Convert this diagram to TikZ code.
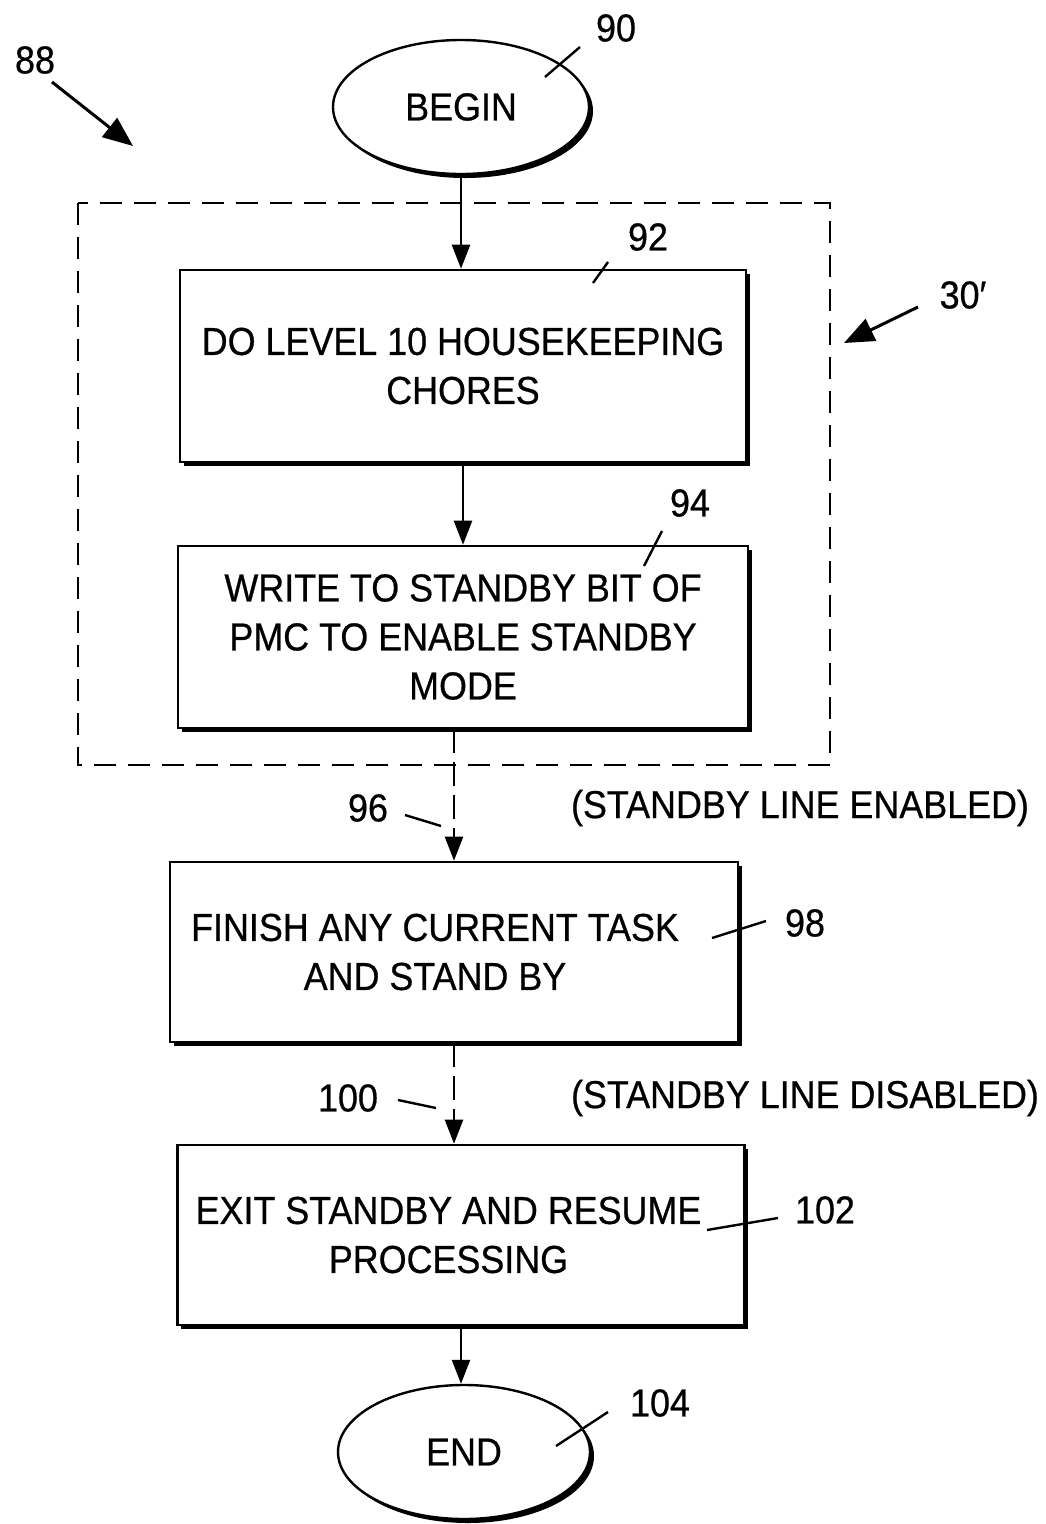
\documentclass[tikz,border=0pt]{standalone}
\usepackage{fontspec}
\setmainfont[FakeStretch=0.92,FakeBold=0.6]{Liberation Sans}
\usetikzlibrary{arrows.meta,shapes.geometric,shadows}
\begin{document}
\begin{tikzpicture}[x=1pt,y=-1pt,
  every node/.style={font=\fontsize{39}{49}\selectfont, inner sep=0pt},
  stepbox/.style={draw, fill=white, line width=2.6pt, align=center,
    general shadow={fill=black, shadow xshift=3.5pt, shadow yshift=-3.5pt}},
  term/.style={ellipse, draw, fill=white, line width=2.4pt,
    general shadow={fill=black, shadow xshift=4pt, shadow yshift=-4pt}},
  flow/.style={line width=2.4pt, -{Triangle[length=24pt,width=18pt]}},
  dflow/.style={flow, dash pattern=on 24pt off 9pt},
  lead/.style={line width=2.4pt},
  bigarrow/.style={line width=3pt, -{Triangle[length=30pt,width=24pt]}},
  grpline/.style={line width=2.6pt, dash pattern=on 22pt off 12pt}]
\useasboundingbox (0,0) rectangle (1045,1524);

% group frame
\draw[grpline] (78,203) rectangle (830,765);

% flow nodes
\node[term, minimum width=256pt, minimum height=134pt] (begin) at (461,107) {BEGIN};
\node[stepbox, minimum width=566pt, minimum height=192pt] (b92) at (463,366) {DO LEVEL 10 HOUSEKEEPING\\CHORES};
\node[stepbox, minimum width=570pt, minimum height=182pt] (b94) at (463,637) {WRITE TO STANDBY BIT OF\\PMC TO ENABLE STANDBY\\MODE};
\node[stepbox, minimum width=568pt, minimum height=180pt] (b98) at (454,952) {FINISH ANY CURRENT TASK\kern38pt\\AND STAND BY\kern38pt};
\node[stepbox, minimum width=567pt, minimum height=180pt] (b102) at (461,1235) {EXIT STANDBY AND RESUME\kern25pt\\PROCESSING\kern25pt};
\node[term, minimum width=252pt, minimum height=134pt] (endn) at (464,1452) {END};

% connectors
\draw[flow] (begin.south) -- (begin.south |- b92.north);
\draw[flow] (b92.south) -- (b92.south |- b94.north);
\draw[dflow] (b98.north |- b94.south) -- (b98.north);
\draw[dflow] (b98.south) -- (b98.south |- b102.north);
\draw[flow] (b102.south) -- (b102.south |- endn.north);

% reference labels
\node (l88) at (35,60) {88};
\node (l90) at (616,28) {90};
\node (l92) at (648,237) {92};
\node (l30) at (963,295) {30′};
\node (l94) at (690,503) {94};
\node (l96) at (368,808) {96};
\node (len) at (800,808) {(STANDBY LINE ENABLED)};
\node (l98) at (805,923) {98};
\node (l100) at (348,1098) {100};
\node (ldis) at (805,1098) {(STANDBY LINE DISABLED)};
\node (l102) at (825,1210) {102};
\node (l104) at (660,1403) {104};

% arrows for 88 and 30'
\coordinate (a88s) at (52,82);
\coordinate (a88e) at (133,146);
\draw[bigarrow] (a88s) -- (a88e);
\coordinate (a30s) at (918,307);
\coordinate (a30e) at (844,343);
\draw[bigarrow] (a30s) -- (a30e);

% leader lines
\coordinate (c90a) at (545,77);   \coordinate (c90b) at (580,47);
\coordinate (c92a) at (593,283);  \coordinate (c92b) at (608,262);
\coordinate (c94a) at (644,566);  \coordinate (c94b) at (662,531);
\coordinate (c96a) at (405,815);  \coordinate (c96b) at (441,826);
\coordinate (c98a) at (712,938);  \coordinate (c98b) at (766,921);
\coordinate (c100a) at (398,1100); \coordinate (c100b) at (436,1108);
\coordinate (c102a) at (707,1230); \coordinate (c102b) at (778,1218);
\coordinate (c104a) at (556,1446); \coordinate (c104b) at (608,1412);
\draw[lead] (c90a) -- (c90b);
\draw[lead] (c92a) -- (c92b);
\draw[lead] (c94a) -- (c94b);
\draw[lead] (c96a) -- (c96b);
\draw[lead] (c98a) -- (c98b);
\draw[lead] (c100a) -- (c100b);
\draw[lead] (c102a) -- (c102b);
\draw[lead] (c104a) -- (c104b);
\end{tikzpicture}
\end{document}
